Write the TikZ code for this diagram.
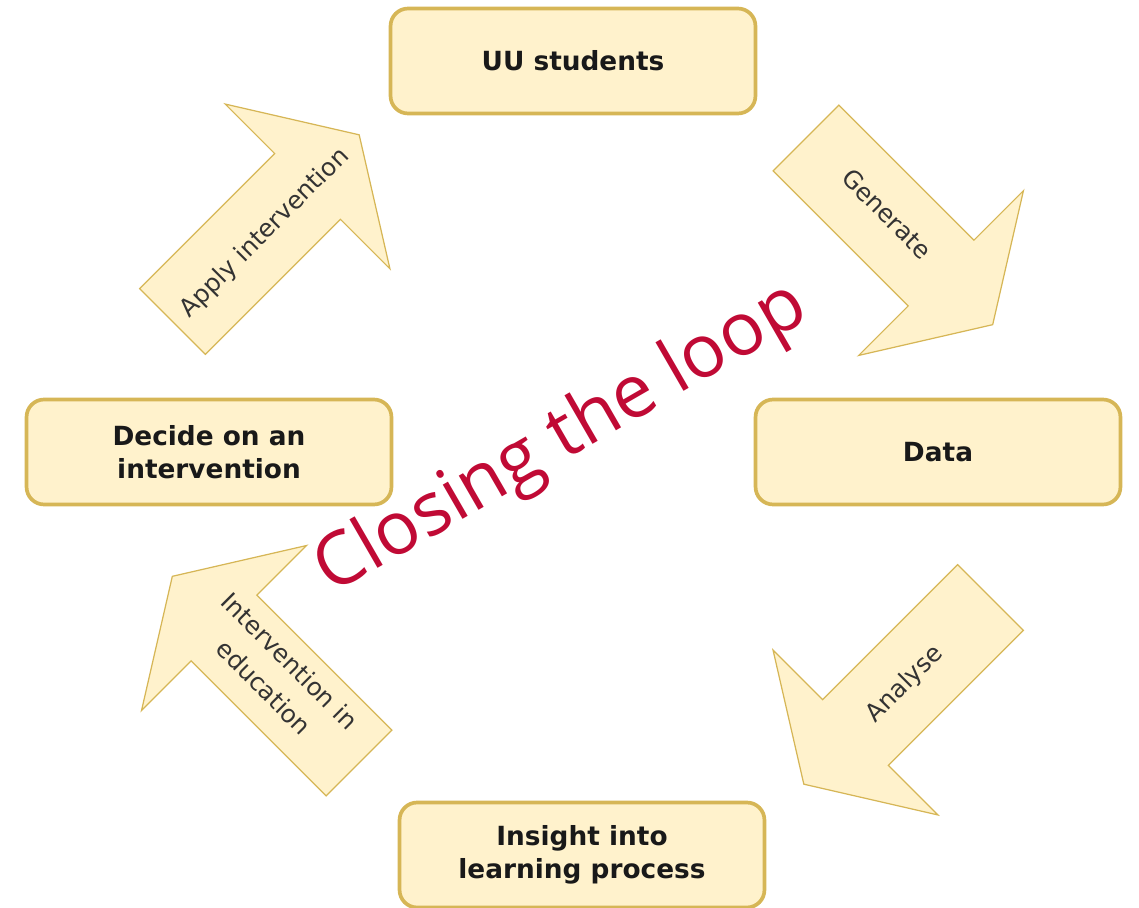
\documentclass[tikz,border=0pt]{standalone}
\usepackage{fontspec}
\setmainfont{DejaVu Sans}
\newfontfamily\loopfont{Open Sans}
\definecolor{boxfill}{HTML}{FFF2CC}
\definecolor{boxline}{HTML}{D6B656}
\definecolor{looptext}{HTML}{C00A35}
\tikzset{
  box/.style={draw=boxline, fill=boxfill, line width=2.1pt, rounded corners=10pt,
    minimum width=7.3cm, minimum height=2.1cm, align=center, text=black!90,
    font=\fontsize{15}{19}\selectfont\bfseries},
  blockarrow/.style={draw=boxline, fill=boxfill, line width=0.7pt},
  arrowlabel/.style={text=black!80, align=center, font=\fontsize{14}{21}\selectfont}
}
\begin{document}
\begin{tikzpicture}[x=0.02cm, y=-0.02cm]
	\useasboundingbox (0,0) rectangle (1139,908);
	\foreach \x/\y/\a in {806/138/-45, 990.5/597.5/-135, 359/763/135, 172.5/321.5/45}
		\draw[blockarrow, shift={(\x,\y)}, rotate=\a] (0,-46.5) -- (191,-46.5) -- (191,-116.5) -- (264,0) -- (191,116.5) -- (191,46.5) -- (0,46.5) -- cycle;
	\node[box] (students) at (573,61) {UU students};
	\node[box] (data) at (938,452) {Data};
	\node[box] (insight) at (582,855) {Insight into\\learning process};
	\node[box] (decide) at (209,452) {Decide on an\\intervention};
	\node[arrowlabel, rotate=-45] (generate) at (887,214) {Generate};
	\node[arrowlabel, rotate=45] (analyse) at (905,684) {Analyse};
	\node[arrowlabel, rotate=-45] (educate) at (277,674) {Intervention in\\education};
	\node[arrowlabel, rotate=45] (apply) at (265,233) {Apply intervention};
	\node[text=looptext, rotate=30, font=\loopfont\fontsize{42}{50}\selectfont] (loop) at (562,440) {Closing the loop};
\end{tikzpicture}
\end{document}
